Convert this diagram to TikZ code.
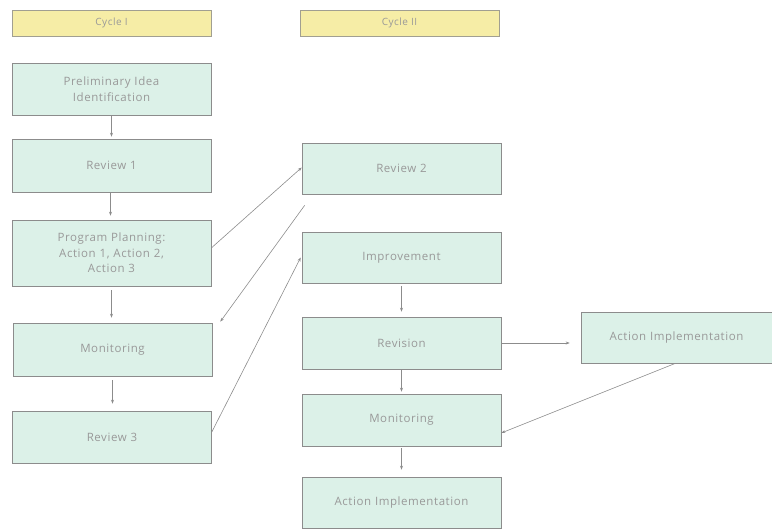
\documentclass[tikz,border=0pt]{standalone}
\usepackage{fontspec}
\setmainfont{Open Sans}[LetterSpace=5]
\usetikzlibrary{arrows.meta}
\definecolor{mint}{HTML}{DCF1E8}
\definecolor{sand}{HTML}{F6EDA6}
\definecolor{edge}{HTML}{8C8C8C}
\definecolor{txt}{HTML}{999999}
\tikzset{
  box/.style={draw=edge, line width=0.6pt, fill=mint, minimum width=199pt, text width=160pt, align=center, inner sep=0pt, text=txt, font=\fontsize{11.5}{15.5}\selectfont},
  head/.style={draw=edge!80!sand, line width=0.6pt, fill=sand, minimum width=199pt, minimum height=26pt, inner sep=0pt, text=txt, font=\fontsize{10}{12}\selectfont},
  link/.style={draw=edge, line width=0.6pt, -{Stealth[length=4pt,width=3pt]}},
}
\begin{document}
\begin{tikzpicture}[x=1pt,y=-1pt]
\useasboundingbox (0,0) rectangle (772,529);
\node[head] (c1) at (111.5,23) {Cycle I};
\node[head] (c2) at (399.5,23) {Cycle II};
\node[box, minimum height=52pt] (pre) at (111.5,89) {Preliminary Idea\\Identification};
\node[box, minimum height=53pt] (r1) at (111.5,165.5) {Review 1};
\node[box, minimum height=66pt] (pp) at (111.5,253) {Program Planning:\\Action 1, Action 2,\\Action 3};
\node[box, minimum height=53pt] (ml) at (112.5,349.5) {Monitoring};
\node[box, minimum height=52pt] (r3) at (112,437) {Review 3};
\node[box, minimum height=51pt] (r2) at (401.5,168.5) {Review 2};
\node[box, minimum height=51pt] (imp) at (401.5,257.5) {Improvement};
\node[box, minimum height=52pt] (rev) at (401.5,343) {Revision};
\node[box, minimum height=52pt] (mr) at (401.5,420) {Monitoring};
\node[box, minimum height=51pt] (ab) at (401.5,502.5) {Action Implementation};
\node[box, minimum height=51pt, minimum width=191pt, text width=185pt] (ar) at (676.5,337.5) {Action Implementation};
% vertical links
\draw[link] (pre.south) -- ([yshift=2pt]r1.north);
\draw[link] ([xshift=-1pt]r1.south) -- ([xshift=-1pt,yshift=4pt]pp.north);
\draw[link] ([yshift=-4pt]pp.south) -- ([yshift=5pt]pp.south |- ml.north);
\draw[link] ([yshift=-4pt]ml.south) -- ([yshift=7pt]ml.south |- r3.north);
\draw[link] ([yshift=-3pt]imp.south) -- ([yshift=5pt]rev.north);
\draw[link] (rev.south) -- ([yshift=2pt]mr.north);
\draw[link] ([yshift=-2pt]mr.south) -- ([yshift=7pt]ab.north);
% cross links
\draw[link] ([yshift=5pt]pp.east) -- ([yshift=1pt]r2.west);
\coordinate (r2o) at ([shift={(3pt,-11pt)}]r2.south west);
\coordinate (mli) at ([shift={(8pt,1pt)}]ml.north east);
\draw[link] (r2o) -- (mli);
\draw[link] ([yshift=5pt]r3.east) -- ([xshift=-1pt]imp.west);
\coordinate (arl) at ([xshift=-11pt]ar.west);
\draw[link] (rev.east) -- (arl |- rev.east);
\draw[link] ([xshift=-1pt]ar.south) -- ([yshift=-13pt]mr.east);
\end{tikzpicture}
\end{document}
